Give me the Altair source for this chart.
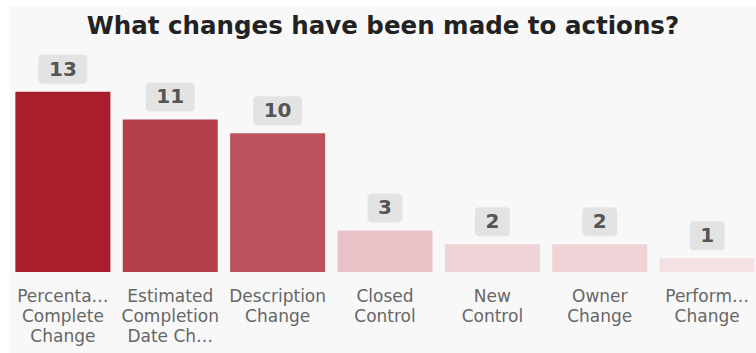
import altair as alt
import pandas as pd

categories = [
    "Percentage Complete Change",
    "Estimated Completion Date Change",
    "Description Change",
    "Closed Control",
    "New Control",
    "Owner Change",
    "Performance Change",
]
counts = [13, 11, 10, 3, 2, 2, 1]
tick_labels = [
    ["Percenta…", "Complete", "Change"],
    ["Estimated", "Completion", "Date Ch…"],
    ["Description", "Change"],
    ["Closed", "Control"],
    ["New", "Control"],
    ["Owner", "Change"],
    ["Perform…", "Change"],
]
bar_colors = ["#a81e2c", "#b43f4b", "#bb525c", "#e9c1c6", "#f0d3d6", "#f0d3d6", "#f5e1e3"]

keys = ["|".join(t) for t in tick_labels]
df = pd.DataFrame({"category": categories, "count": counts, "key": keys})

W, H = 746, 222
FONT = "DejaVu Sans"

x = alt.X(
    "key:N",
    sort=keys,
    scale=alt.Scale(domain=keys, range=[0, 750], paddingInner=0.115, paddingOuter=0.05),
    axis=alt.Axis(
        title=None, labelExpr="split(datum.value, '|')", labelAngle=0,
        domain=False, ticks=False, grid=False, labelFont=FONT, labelFontSize=17,
        labelColor="#666666", labelPadding=16, labelLineHeight=20, labelLimit=200,
        zindex=1,
    ),
)
y = alt.Y("count:Q", scale=alt.Scale(domain=[0, 16], nice=False), axis=None)

bg = alt.Chart(pd.DataFrame({"z": [0]})).mark_rect(color="#f8f8f8").encode(
    x=alt.value(-1), x2=alt.value(760), y=alt.value(-44), y2=alt.value(320)
)

base = alt.Chart(df)

bars = base.mark_bar().encode(
    x=x, y=y,
    color=alt.Color("key:N", scale=alt.Scale(domain=keys, range=bar_colors), legend=None),
    tooltip=["category:N", "count:Q"],
)

box_big = base.transform_filter("datum.count >= 10").mark_bar(
    width=49, cornerRadius=4, color="#e3e3e3", yOffset=-37, y2Offset=-8
).encode(x=x, y=y, y2=alt.Y2("count:Q"))

box_small = base.transform_filter("datum.count < 10").mark_bar(
    width=35, cornerRadius=4, color="#e3e3e3", yOffset=-37, y2Offset=-8
).encode(x=x, y=y, y2=alt.Y2("count:Q"))

labels = base.mark_text(
    dy=-22, baseline="middle", fontSize=20, fontWeight="bold", font=FONT, color="#555555"
).encode(x=x, y=y, text="count:Q")

chart = alt.layer(bg, bars, box_big, box_small, labels).properties(
    width=W, height=H,
    title=alt.TitleParams(
        "What changes have been made to actions?", font=FONT, fontSize=24.5,
        fontWeight="bold", color="#222222", anchor="middle", offset=18, dy=70,
        baseline="alphabetic",
    ),
    autosize=alt.AutoSizeParams(type="none"),
    padding={"left": 10, "top": 50, "right": 0, "bottom": 81},
    background="white",
).configure_view(stroke=None)

chart.save("out.html", embed_options={"renderer": "svg", "actions": False})
